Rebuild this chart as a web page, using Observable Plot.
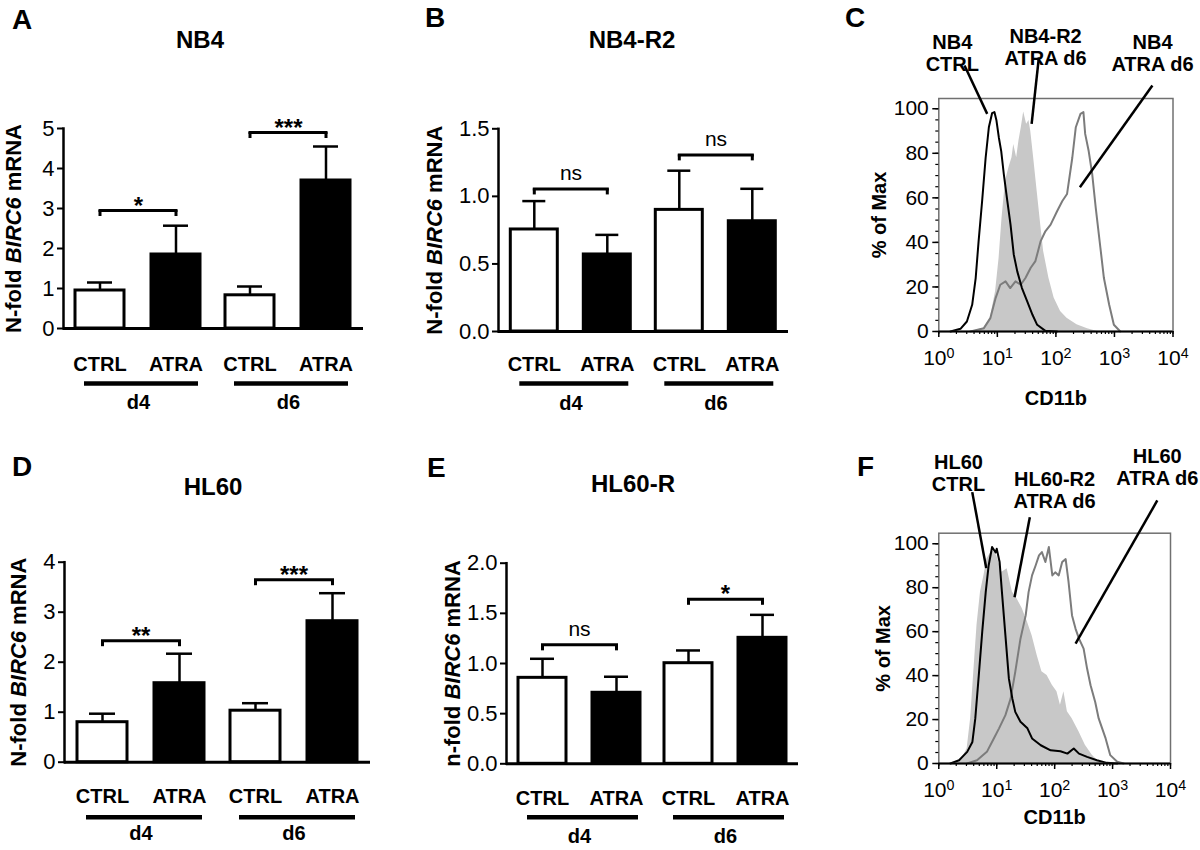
<!DOCTYPE html>
<html><head><meta charset="utf-8">
<script src="https://cdn.jsdelivr.net/npm/d3@7"></script>
<script src="https://cdn.jsdelivr.net/npm/@observablehq/plot@0.6"></script>
<style>
body{margin:0;background:#fff;}
#wrap{position:relative;width:1200px;height:850px;overflow:hidden;font-family:"Liberation Sans",Arial,Helvetica,sans-serif;color:#000;}
.panel{position:absolute;}
.panel svg{overflow:visible;max-width:none;}
.lbl{position:absolute;font-weight:bold;line-height:1;white-space:nowrap;}
</style></head><body><div id="wrap"></div>
<script>
const FONT = '"Liberation Sans", Arial, Helvetica, sans-serif';
const days = ["d4", "d6"];
const treatments = ["CTRL", "ATRA"];

// A: NB4 (order: d4 CTRL, d4 ATRA, d6 CTRL, d6 ATRA)
const nb4Mean = [0.95, 1.85, 0.83, 3.70];
const nb4Sd = [0.20, 0.72, 0.22, 0.85];
const nb4Bracket = [2.95, 4.90];
const nb4Sig = ["*", "***"];
const nb4Ticks = [0, 1, 2, 3, 4, 5];
// B: NB4-R2
const nb4r2Mean = [0.755, 0.57, 0.90, 0.816];
const nb4r2Sd = [0.21, 0.145, 0.29, 0.24];
const nb4r2Bracket = [1.055, 1.307];
const nb4r2Sig = ["ns", "ns"];
const nb4r2Ticks = [0, 0.5, 1.0, 1.5];
// D: HL60
const hl60Mean = [0.80, 1.58, 1.03, 2.82];
const hl60Sd = [0.17, 0.59, 0.15, 0.56];
const hl60Bracket = [2.43, 3.65];
const hl60Sig = ["**", "***"];
const hl60Ticks = [0, 1, 2, 3, 4];
// E: HL60-R
const hl60rMean = [0.857, 0.708, 1.003, 1.256];
const hl60rSd = [0.19, 0.16, 0.127, 0.229];
const hl60rBracket = [1.186, 1.64];
const hl60rSig = ["ns", "*"];
const hl60rTicks = [0, 0.5, 1.0, 1.5, 2.0];

// C: flow histograms (log10 CD11b, % of Max)
const nb4CtrlLog = [0.2,0.37,0.48,0.57,0.63,0.68,0.74,0.80,0.855,0.91,0.95,0.985,1.026,1.066,1.11,1.17,1.225,1.28,1.34,1.42,1.51,1.6,1.68,1.82,2.02];
const nb4CtrlPct = [0,1.2,4.5,12,24,40.6,58.6,78,91.7,98,98.5,94.7,87,81,70.7,58.6,48,34.6,27,19.5,13.5,7.5,3,0.3,0];
const nb4r2AtraLog = [0.54,0.77,0.88,0.97,1.03,1.08,1.14,1.2,1.25,1.28,1.33,1.37,1.41,1.45,1.5,1.54,1.57,1.62,1.68,1.74,1.79,1.88,1.97,2.08,2.19,2.36,2.54,2.71];
const nb4r2AtraPct = [0,1.5,6,18,33,51,67.7,73.7,78,84,78,85.7,91.7,98.5,93,94.7,90,78,63,48,36,24,15,9,6,3,1.2,0];
const nb4AtraLog = [0.54,0.77,0.88,0.97,1.05,1.14,1.22,1.31,1.4,1.48,1.57,1.65,1.74,1.82,1.91,2.02,2.11,2.19,2.28,2.34,2.42,2.47,2.5,2.56,2.62,2.68,2.76,2.82,2.91,2.99,3.1];
const nb4AtraPct = [0,1.5,6,15,21,22.5,19.5,22.5,21,24,28.6,31.6,40.6,45,48,54,58.6,61.7,78,91.7,97.7,98.5,88.7,81,70.7,55.6,37.6,24,12,3,0];
// F
const hl60CtrlLog = [0.2,0.35,0.49,0.58,0.63,0.69,0.75,0.81,0.86,0.92,0.98,1.0,1.05,1.09,1.15,1.21,1.27,1.32,1.41,1.53,1.61,1.76,1.93,2.1,2.22,2.33,2.42,2.56,2.73,2.9,3.08];
const hl60CtrlPct = [0,1.5,5.3,9.8,20.5,40,60,78,90,98.5,96,97.7,91.7,78,58.3,38.6,29.5,23.5,19,16,11.4,8.3,6,5.6,4.5,6.8,4.5,3,1.5,0.3,0];
const hl60r2AtraLog = [0.26,0.4,0.49,0.55,0.6,0.66,0.72,0.78,0.83,0.92,1.0,1.09,1.18,1.27,1.35,1.44,1.53,1.61,1.7,1.78,1.87,1.96,2.04,2.1,2.16,2.22,2.3,2.42,2.53,2.65,2.76,2.85];
const hl60r2AtraPct = [0,2.3,6.8,20.5,40,63,78,85.6,93,97,94.7,87,88.6,78,75,70.5,64.4,58.3,49,41.7,40,35.6,32.6,26.5,32.6,23.5,20.5,14.4,8.3,3.8,0.8,0];
const hl60AtraLog = [0.49,0.66,0.83,0.95,1.04,1.15,1.24,1.32,1.41,1.5,1.55,1.61,1.67,1.73,1.78,1.84,1.9,1.96,2.01,2.07,2.13,2.19,2.24,2.3,2.36,2.42,2.5,2.56,2.62,2.7,2.76,2.82,2.88,2.96,3.08,3.19];
const hl60AtraPct = [0,1.5,5.3,11.4,16,22,29.5,41.7,56.8,67.4,78,85.6,90,94.7,96.2,91.7,98.5,85.6,87,85.6,91.7,93,82.6,67.4,61.4,56.8,52.3,43.2,35.6,28,20.5,16,11.4,3.8,0.8,0];

const pctTicks = [0, 20, 40, 60, 80, 100];
const pctMinorTicks = [0,5,10,15,20,25,30,35,40,45,50,55,60,65,70,75,80,85,90,95,100];
const decadeTicks = [1, 10, 100, 1000, 10000];

// annotation labels and leader lines (data coordinates)
const cLabels = [
  {x: 1.70, y: 125.0, t: "NB4\nCTRL"},
  {x: 66.7, y: 127.6, t: "NB4-R2\nATRA d6"},
  {x: 4467, y: 125.0, t: "NB4\nATRA d6"}
];
const cLeaders = [
  {x1: 2.75, y1: 119.4, x2: 6.71, y2: 97.7},
  {x1: 51.2, y1: 123.1, x2: 38.5, y2: 93.2},
  {x1: 4446, y1: 110.4, x2: 257, y2: 64.8}
];
const fLabels = [
  {x: 2.19, y: 132.2, t: "HL60\nCTRL"},
  {x: 99.6, y: 124.6, t: "HL60-R2\nATRA d6"},
  {x: 5916, y: 134.8, t: "HL60\nATRA d6"}
];
const fLeaders = [
  {x1: 3.78, y1: 123.5, x2: 6.59, y2: 88.9},
  {x1: 37.3, y1: 112.1, x2: 20.3, y2: 75.7},
  {x1: 5916, y1: 119.7, x2: 229.6, y2: 54.5}
];

const wrap = document.getElementById("wrap");
const SVGNS = "http://www.w3.org/2000/svg";

function place(node, left, top) {
  const d = document.createElement("div");
  d.className = "panel";
  d.style.left = left + "px";
  d.style.top = top + "px";
  d.appendChild(node);
  wrap.appendChild(d);
}
function addText(text, x, baseline, size, center) {
  const d = document.createElement("div");
  d.className = "lbl";
  d.textContent = text;
  d.style.fontSize = size + "px";
  d.style.top = (baseline - 0.8465 * size) + "px";
  d.style.left = x + "px";
  if (center) d.style.transform = "translateX(-50%)";
  wrap.appendChild(d);
}
function richLabel(svg, selector, parts, size) {
  const t = svg.querySelector(selector);
  if (!t) return;
  t.textContent = "";
  t.setAttribute("font-weight", "bold");
  if (size) t.setAttribute("font-size", size);
  for (const [s, it] of parts) {
    const ts = document.createElementNS(SVGNS, "tspan");
    ts.textContent = s;
    if (it) ts.setAttribute("font-style", "italic");
    t.appendChild(ts);
  }
}

function barPanel(o) {
  const rows = o.mean.map((m, i) => ({day: days[Math.floor(i / 2)], trt: treatments[i % 2], mean: m, top: m + o.sd[i]}));
  const br = o.bracket.map((h, i) => ({day: days[i], h, sig: o.sig[i]}));
  const svg = Plot.plot({
    width: o.width, height: o.height,
    marginLeft: o.mL, marginRight: o.mR, marginTop: o.mT, marginBottom: o.mB,
    style: {fontFamily: FONT, fontSize: "20px", color: "#000", background: "transparent"},
    fx: {domain: days, padding: 0},
    x: {domain: treatments, paddingInner: 0.35, paddingOuter: 0.16},
    y: {domain: [o.ticks[0], o.ticks[o.ticks.length - 1]]},
    color: {domain: treatments, range: ["#ffffff", "#000000"]},
    marks: [
      Plot.ruleX(rows, {fx: "day", x: "trt", y1: "mean", y2: "top", stroke: "#000", strokeWidth: 2.5}),
      Plot.tickY(rows, {fx: "day", x: "trt", y: "top", stroke: "#000", strokeWidth: 2.5, insetLeft: 12, insetRight: 12}),
      Plot.barY(rows, {fx: "day", x: "trt", y: "mean", fill: "trt", stroke: "#000", strokeWidth: 3}),
      Plot.link(br, {fx: "day", x1: () => treatments[0], x2: () => treatments[1], y1: "h", y2: "h", stroke: "#000", strokeWidth: 3, strokeLinecap: "square"}),
      Plot.ruleX(br, {fx: "day", x: () => treatments[0], y1: "h", y2: "h", insetBottom: -6, stroke: "#000", strokeWidth: 3}),
      Plot.ruleX(br, {fx: "day", x: () => treatments[1], y1: "h", y2: "h", insetBottom: -6, stroke: "#000", strokeWidth: 3}),
      Plot.text(br.filter(d => d.sig !== "ns"), {fx: "day", y: "h", text: "sig", lineAnchor: "bottom", dy: 3, fontWeight: "bold", fontSize: 24}),
      Plot.text(br.filter(d => d.sig === "ns"), {fx: "day", y: "h", text: "sig", lineAnchor: "bottom", dy: -9, fontSize: 21}),
      Plot.ruleY([0], {y: d => d, x1: () => treatments[0], x2: () => treatments[1], dy: o.ulDy, strokeWidth: 4.5, insetLeft: 9, insetRight: 2}),
      Plot.frame({anchor: "left", facetAnchor: "left", stroke: "#000", strokeWidth: 2.5}),
      Plot.ruleY([0], {stroke: "#000", strokeWidth: 3}),
      Plot.axisY({ticks: o.ticks, tickFormat: o.fmt, tickSize: 6, tickPadding: 3, strokeWidth: 2, fontSize: 22,
        label: o.label.map(p => p[0]).join(""), labelAnchor: "center", labelOffset: o.labelOffset}),
      Plot.axisX({tickSize: 0, tickPadding: o.xPad, fontWeight: "bold", fontSize: 20, label: null}),
      Plot.axisFx({anchor: "bottom", tickSize: 0, tickPadding: o.fxPad, fontWeight: "bold", fontSize: 20, label: null})
    ]
  });
  richLabel(svg, '[aria-label="y-axis label"] text', o.label, 22);
  place(svg, o.left, o.top);
}

function flowPanel(o) {
  const toRows = (lx, py) => lx.map((v, i) => ({x: 10 ** v, y: py[i]}));
  const svg = Plot.plot({
    width: o.width, height: o.height,
    marginLeft: o.mL, marginRight: o.mR, marginTop: o.mT, marginBottom: o.mB,
    style: {fontFamily: FONT, fontSize: "20px", color: "#000", background: "transparent"},
    x: {type: "log", domain: [1, 10000]},
    y: {domain: [0, o.yMax]},
    marks: [
      Plot.areaY(toRows(o.r2Log, o.r2Pct), {x: "x", y: "y", fill: "#c8c8c8"}),
      Plot.line(toRows(o.atraLog, o.atraPct), {x: "x", y: "y", stroke: "#7c7c7c", strokeWidth: 2}),
      Plot.line(toRows(o.ctrlLog, o.ctrlPct), {x: "x", y: "y", stroke: "#000", strokeWidth: 2}),
      Plot.frame({stroke: "#707070", strokeWidth: 1.5}),
      Plot.ruleY([0], {stroke: "#000", strokeWidth: 2}),
      Plot.axisY({ticks: pctMinorTicks, tickSize: 3, tickFormat: () => "", label: null, strokeWidth: 1.2}),
      Plot.axisY({ticks: pctTicks, tickSize: 6, tickPadding: 4, strokeWidth: 1.5, fontSize: 21,
        label: "% of Max", labelAnchor: "center", labelOffset: o.yLabelOffset}),
      Plot.axisX({ticks: 10, tickSize: 3, tickFormat: () => "", label: null, strokeWidth: 1.2}),
      Plot.axisX({ticks: decadeTicks, tickSize: 6, tickPadding: 13, strokeWidth: 1.5, fontSize: 21,
        tickFormat: d => "10^" + Math.round(Math.log10(d)),
        label: "CD11b", labelAnchor: "center", labelOffset: o.xLabelOffset}),
      Plot.link(o.leaders, {x1: "x1", y1: "y1", x2: "x2", y2: "y2", stroke: "#000", strokeWidth: 2.5}),
      Plot.text(o.labels, {x: "x", y: "y", text: "t", fontWeight: "bold", fontSize: 20, lineHeight: 1.1})
    ]
  });
  richLabel(svg, '[aria-label="y-axis label"] text', [["% of Max", false]], 20);
  richLabel(svg, '[aria-label="x-axis label"] text', [["CD11b", false]], 20);
  svg.querySelectorAll('[aria-label="x-axis tick label"] text').forEach(t => {
    const m = /^10\^(\d)$/.exec(t.textContent);
    if (!m) return;
    t.textContent = "10";
    const ts = document.createElementNS(SVGNS, "tspan");
    ts.textContent = m[1];
    ts.setAttribute("dy", "-0.5em");
    ts.setAttribute("font-size", "0.68em");
    t.appendChild(ts);
  });
  place(svg, o.left, o.top);
}

const birc = (n) => [[n + "-fold ", false], ["BIRC6", true], [" mRNA", false]];

barPanel({left: 0, top: 100, width: 390, height: 320, mL: 62, mR: 27, mT: 28, mB: 92,
  mean: nb4Mean, sd: nb4Sd, bracket: nb4Bracket, sig: nb4Sig, ticks: nb4Ticks, fmt: d3.format("d"),
  label: birc("N"), labelOffset: 58, xPad: 28, fxPad: 66, ulDy: 55});
barPanel({left: 400, top: 100, width: 400, height: 320, mL: 97.7, mR: 12, mT: 28.3, mB: 89,
  mean: nb4r2Mean, sd: nb4r2Sd, bracket: nb4r2Bracket, sig: nb4r2Sig, ticks: nb4r2Ticks, fmt: d3.format(".1f"),
  label: birc("N"), labelOffset: 72, xPad: 25, fxPad: 64, ulDy: 52});
barPanel({left: 0, top: 530, width: 390, height: 320, mL: 63, mR: 20, mT: 31.7, mB: 88.3,
  mean: hl60Mean, sd: hl60Sd, bracket: hl60Bracket, sig: hl60Sig, ticks: hl60Ticks, fmt: d3.format("d"),
  label: birc("N"), labelOffset: 54, xPad: 26.6, fxPad: 64, ulDy: 55});
barPanel({left: 400, top: 530, width: 400, height: 320, mL: 106, mR: 2, mT: 32.7, mB: 86.7,
  mean: hl60rMean, sd: hl60rSd, bracket: hl60rBracket, sig: hl60rSig, ticks: hl60rTicks, fmt: d3.format(".1f"),
  label: birc("n"), labelOffset: 62, xPad: 26.7, fxPad: 65, ulDy: 53.4});

flowPanel({left: 800, top: 0, width: 400, height: 420, mL: 138.3, mR: 27.5, mT: 98, mB: 89, yMax: 104.6,
  ctrlLog: nb4CtrlLog, ctrlPct: nb4CtrlPct, r2Log: nb4r2AtraLog, r2Pct: nb4r2AtraPct, atraLog: nb4AtraLog, atraPct: nb4AtraPct,
  labels: cLabels, leaders: cLeaders, yLabelOffset: 66.6, xLabelOffset: 73});
flowPanel({left: 800, top: 420, width: 400, height: 430, mL: 138.3, mR: 30, mT: 112.7, mB: 87, yMax: 104.8,
  ctrlLog: hl60CtrlLog, ctrlPct: hl60CtrlPct, r2Log: hl60r2AtraLog, r2Pct: hl60r2AtraPct, atraLog: hl60AtraLog, atraPct: hl60AtraPct,
  labels: fLabels, leaders: fLeaders, yLabelOffset: 63.3, xLabelOffset: 60});

// panel letters and titles
addText("A", 12, 30, 28, false);
addText("B", 425, 28, 28, false);
addText("C", 845, 28, 28, false);
addText("D", 12, 477, 28, false);
addText("E", 427, 478, 28, false);
addText("F", 857, 477, 28, false);
addText("NB4", 200, 48, 24, true);
addText("NB4-R2", 632, 48, 24, true);
addText("HL60", 213, 495, 24, true);
addText("HL60-R", 633, 492, 24, true);
</script></body></html>
